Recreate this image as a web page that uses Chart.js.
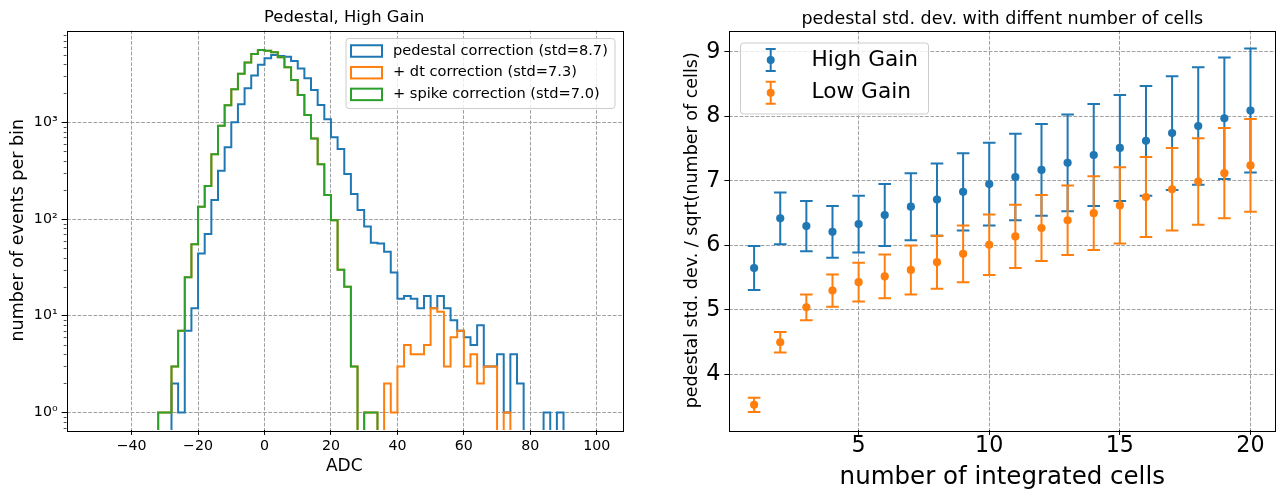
<!DOCTYPE html>
<html>
<head>
<meta charset="utf-8">
<title>Pedestal noise</title>
<script src="https://cdn.jsdelivr.net/npm/chart.js@4.4.1/dist/chart.umd.min.js"></script>
<style>
  html, body { margin: 0; padding: 0; background: #fff; }
  #wrap { position: relative; width: 1280px; height: 494px; overflow: hidden; }
  canvas { position: absolute; top: 0; }
  #histChart { left: 0; }
  #stdChart { left: 640px; }
</style>
</head>
<body>
<div id="wrap">
  <canvas id="histChart" width="640" height="494"></canvas>
  <canvas id="stdChart" width="640" height="494"></canvas>
</div>
<script>
// ---- histogram data (2 ADC wide bins, first bin starts at -34) ----
const binLow = -34;
const binWidth = 2;

const pedestalCounts = [
  0, 0, 0, 2, 1, 7, 12, 44, 70, 157,
  316, 552, 1000, 1535, 2250, 3050, 3950, 4600, 4980, 4860,
  4760, 4300, 3610, 2850, 2160, 1510, 1075, 700, 530, 292,
  182, 124, 84, 57, 56, 46, 28, 15, 16, 15,
  12, 16, 12, 16, 12, 9, 7, 6, 5, 8,
  3, 3, 4, 1, 4, 2, 0, 0, 0, 1,
  0, 1, 0
];
const dtCounts = [
  0, 1, 1, 3, 7, 25, 55, 134, 220, 467,
  920, 1500, 2200, 3170, 4150, 5080, 5600, 5500, 5300, 4700,
  3700, 2740, 1920, 1190, 680, 368, 177, 97, 30, 20,
  3, 0, 1, 1, 0, 2, 1, 3, 5, 4,
  4, 5, 12, 11, 3, 6, 7, 3, 4, 2,
  3, 3, 0, 1, 0, 0, 0, 0, 0, 0,
  0, 0, 0
];
const spikeCounts = [
  0, 1, 1, 3, 7, 25, 55, 134, 220, 467,
  920, 1500, 2200, 3170, 4150, 5080, 5600, 5500, 5300, 4700,
  3700, 2740, 1920, 1190, 680, 368, 177, 97, 30, 20,
  3, 0, 1, 1, 0, 0, 0, 0, 0, 0,
  0, 0, 0, 0, 0, 0, 0, 0, 0, 0,
  0, 0, 0, 0, 0, 0, 0, 0, 0, 0,
  0, 0, 0
];
const histLabels = [
  "pedestal correction (std=8.7)",
  "+ dt correction (std=7.3)",
  "+ spike correction (std=7.0)"
];
const adcTicks = [-40, -20, 0, 20, 40, 60, 80, 100];
const countTicks = [1, 10, 100, 1000];

// ---- std. dev. per number of integrated cells ----
const cells = [1, 2, 3, 4, 5, 6, 7, 8, 9, 10, 11, 12, 13, 14, 15, 16, 17, 18, 19, 20];
const highGain = [5.65, 6.42, 6.30, 6.21, 6.33, 6.47, 6.60, 6.71, 6.83, 6.95,
                  7.06, 7.17, 7.28, 7.40, 7.51, 7.62, 7.74, 7.85, 7.97, 8.09];
const highGainErr = [0.34, 0.40, 0.39, 0.40, 0.44, 0.48, 0.52, 0.56, 0.60, 0.64,
                     0.67, 0.71, 0.75, 0.79, 0.82, 0.85, 0.88, 0.91, 0.94, 0.96];
const lowGain = [3.53, 4.50, 5.04, 5.30, 5.43, 5.52, 5.62, 5.74, 5.87, 6.01,
                 6.14, 6.27, 6.39, 6.50, 6.62, 6.75, 6.87, 6.99, 7.12, 7.24];
const lowGainErr = [0.11, 0.16, 0.20, 0.25, 0.30, 0.34, 0.38, 0.41, 0.44, 0.47,
                    0.49, 0.51, 0.54, 0.57, 0.59, 0.62, 0.64, 0.67, 0.70, 0.72];
const gainLabels = ["High Gain", "Low Gain"];
const cellTicks = [5, 10, 15, 20];
const stdTicks = [4, 5, 6, 7, 8, 9];

const BLUE = "#1f77b4", ORANGE = "#ff7f0e", GREEN = "#2ca02c";
const FONT = "'DejaVu Sans', sans-serif";

Chart.defaults.font.family = FONT;
Chart.defaults.color = "#000";
Chart.defaults.animation = false;

// empty bins sit below the log axis and get clipped away
const emptyBin = 0.05;

function stepPoints(counts) {
  const pts = [{ x: binLow, y: emptyBin }];
  counts.forEach((c, i) => {
    pts.push({ x: binLow + (i + 1) * binWidth, y: c > 0 ? c : emptyBin });
  });
  pts.push({ x: binLow + counts.length * binWidth, y: emptyBin });
  return pts;
}

function fixedTicks(values) {
  return (scale) => { scale.ticks = values.map((v) => ({ value: v })); };
}

const SUP = { "0": "\u2070", "1": "\u00b9", "2": "\u00b2", "3": "\u00b3" };
function powerLabel(v) {
  const e = String(Math.round(Math.log10(v)));
  return "10" + e.split("").map((d) => SUP[d]).join("");
}
function minusLabel(v) {
  return v < 0 ? "\u2212" + Math.abs(v) : String(v);
}

function gridOpts() {
  return {
    color: "#a0a0a0",
    lineWidth: 1,
    tickColor: "#000",
    tickLength: 4.9,
    tickWidth: 1
  };
}

// box round the plot area, drawn over the data like matplotlib spines
const frame = {
  id: "frame",
  afterDraw(chart) {
    const { ctx, chartArea: a } = chart;
    ctx.save();
    ctx.strokeStyle = "#000";
    ctx.lineWidth = 1;
    ctx.strokeRect(Math.round(a.left) + 0.5, Math.round(a.top) + 0.5,
                   Math.round(a.right - a.left), Math.round(a.bottom - a.top));
    ctx.restore();
  }
};

// short unlabelled ticks at 2..9 x 10^n on the log axis
const logMinorTicks = {
  id: "logMinorTicks",
  afterDraw(chart) {
    const { ctx, chartArea: a, scales: { y } } = chart;
    ctx.save();
    ctx.strokeStyle = "#000";
    ctx.lineWidth = 0.7;
    ctx.beginPath();
    for (let dec = 0.1; dec <= 1000; dec *= 10) {
      for (let m = 2; m <= 9; m++) {
        const v = m * dec;
        if (v < y.min || v > y.max) continue;
        const py = Math.round(y.getPixelForValue(v)) + 0.5;
        ctx.moveTo(a.left, py);
        ctx.lineTo(a.left - 2.8, py);
      }
    }
    ctx.stroke();
    ctx.restore();
  }
};

// title centred over the plot area
const panelTitle = {
  id: "panelTitle",
  afterDraw(chart, args, o) {
    const { ctx, chartArea: a } = chart;
    ctx.save();
    ctx.font = o.size + "px " + FONT;
    ctx.fillStyle = "#000";
    ctx.textAlign = "center";
    ctx.textBaseline = "alphabetic";
    ctx.fillText(o.text, (a.left + a.right) / 2, o.baseline);
    ctx.restore();
  }
};

// vertical error bars with caps, painted just before each dataset's markers
const errorBars = {
  id: "errorBars",
  beforeDatasetDraw(chart, args) {
    const ds = chart.data.datasets[args.index];
    if (!ds.errors) return;
    const { ctx, scales: { x, y } } = chart;
    const cap = 6.3;
    ctx.save();
    ctx.strokeStyle = ds.backgroundColor;
    ctx.lineWidth = 2;
    ds.data.forEach((p, j) => {
      const px = x.getPixelForValue(p.x);
      const hi = y.getPixelForValue(p.y + ds.errors[j]);
      const lo = y.getPixelForValue(p.y - ds.errors[j]);
      ctx.beginPath();
      ctx.moveTo(px, hi); ctx.lineTo(px, lo);
      ctx.moveTo(px - cap, hi); ctx.lineTo(px + cap, hi);
      ctx.moveTo(px - cap, lo); ctx.lineTo(px + cap, lo);
      ctx.stroke();
    });
    ctx.restore();
  }
};

// legend box inside the axes
const boxLegend = {
  id: "boxLegend",
  afterDatasetsDraw(chart, args, o) {
    const { ctx } = chart;
    ctx.save();
    ctx.beginPath();
    if (ctx.roundRect) ctx.roundRect(o.x + 0.5, o.y + 0.5, o.w, o.h, 3);
    else ctx.rect(o.x + 0.5, o.y + 0.5, o.w, o.h);
    ctx.fillStyle = "rgba(255,255,255,0.8)";
    ctx.fill();
    ctx.strokeStyle = "#cccccc";
    ctx.lineWidth = 1;
    ctx.stroke();
    ctx.font = o.size + "px " + FONT;
    ctx.textBaseline = "middle";
    o.order.forEach((idx, k) => {
      const ds = chart.data.datasets[idx];
      const cy = o.y + o.first + k * o.step;
      const col = ds.borderColor || ds.backgroundColor;
      ctx.strokeStyle = col;
      ctx.fillStyle = col;
      ctx.lineWidth = 2;
      if (o.kind === "patch") {
        ctx.strokeRect(o.markX, cy - o.markH / 2, o.markW, o.markH);
      } else {
        const h = o.markH / 2, c = 5;
        ctx.beginPath();
        ctx.moveTo(o.markX, cy - h); ctx.lineTo(o.markX, cy + h);
        ctx.moveTo(o.markX - c, cy - h); ctx.lineTo(o.markX + c, cy - h);
        ctx.moveTo(o.markX - c, cy + h); ctx.lineTo(o.markX + c, cy + h);
        ctx.stroke();
        ctx.beginPath();
        ctx.arc(o.markX, cy, 4, 0, Math.PI * 2);
        ctx.fill();
      }
      ctx.fillStyle = "#000";
      ctx.fillText(ds.label, o.textX, cy);
    });
    ctx.restore();
  }
};

// ---------- left: pedestal histograms ----------
function histSet(label, counts, color, order) {
  return {
    label: label,
    data: stepPoints(counts),
    borderColor: color,
    borderWidth: 2,
    pointRadius: 0,
    fill: false,
    stepped: "after",
    clip: 0,
    order: order
  };
}

new Chart(document.getElementById("histChart"), {
  type: "line",
  data: {
    datasets: [
      histSet(histLabels[0], pedestalCounts, BLUE, 3),
      histSet(histLabels[1], dtCounts, ORANGE, 2),
      histSet(histLabels[2], spikeCounts, GREEN, 1)
    ]
  },
  options: {
    responsive: false,
    layout: { padding: { left: 0, top: 30.5, right: 18, bottom: 0 } },
    plugins: {
      legend: { display: false },
      tooltip: { enabled: false },
      panelTitle: { text: "Pedestal, High Gain", size: 16.4, baseline: 22 },
      boxLegend: {
        kind: "patch", order: [0, 1, 2],
        x: 345.5, y: 38, w: 269, h: 70,
        first: 13, step: 21.7, size: 14.6,
        markX: 351, markW: 31, markH: 11.5, textX: 393
      }
    },
    scales: {
      x: {
        type: "linear",
        min: -59.6,
        max: 107.6,
        afterBuildTicks: fixedTicks(adcTicks),
        afterFit: (s) => { s.height = 64; },
        grid: gridOpts(),
        border: { display: false, dash: [3.7, 1.6] },
        ticks: { font: { size: 14.2 }, padding: 3, maxRotation: 0,
                 callback: (v) => minusLabel(v) },
        title: { display: true, text: "ADC", font: { size: 17 },
                 padding: { top: 0, bottom: 16.8 } }
      },
      y: {
        type: "logarithmic",
        min: 0.66,
        max: 8900,
        afterBuildTicks: fixedTicks(countTicks),
        afterFit: (s) => { s.width = 66.5; },
        grid: gridOpts(),
        border: { display: false, dash: [3.7, 1.6] },
        ticks: { font: { size: 14.2 }, padding: 4, callback: (v) => powerLabel(v) },
        title: { display: true, text: "number of events per bin", font: { size: 17.5 },
                 padding: { top: 7.5, bottom: 0 } }
      }
    }
  },
  plugins: [frame, logMinorTicks, panelTitle, boxLegend]
});

// ---------- right: std. dev. vs. integrated cells ----------
function gainSet(label, values, errors, color, order) {
  return {
    label: label,
    data: cells.map((c, i) => ({ x: c, y: values[i] })),
    errors: errors,
    backgroundColor: color,
    borderWidth: 0,
    pointRadius: 4.1,
    pointHoverRadius: 4.1,
    order: order
  };
}

new Chart(document.getElementById("stdChart"), {
  type: "scatter",
  data: {
    datasets: [
      gainSet(gainLabels[0], highGain, highGainErr, BLUE, 2),
      gainSet(gainLabels[1], lowGain, lowGainErr, ORANGE, 1)
    ]
  },
  options: {
    responsive: false,
    layout: { padding: { left: 0, top: 30.5, right: 4.7, bottom: 0 } },
    plugins: {
      legend: { display: false },
      tooltip: { enabled: false },
      panelTitle: { text: "pedestal std. dev. with diffent number of cells", size: 17.5, baseline: 23.5 },
      boxLegend: {
        kind: "errorbar", order: [0, 1],
        x: 100, y: 42.5, w: 188, h: 71,
        first: 17.5, step: 32.7, size: 21.7,
        markX: 130.7, markH: 22, textX: 171.5
      }
    },
    scales: {
      x: {
        type: "linear",
        min: 0.05,
        max: 20.95,
        afterBuildTicks: fixedTicks(cellTicks),
        afterFit: (s) => { s.height = 64; },
        grid: gridOpts(),
        border: { display: false, dash: [3.7, 1.6] },
        ticks: { font: { size: 22.2 }, padding: -1.5, maxRotation: 0 },
        title: { display: true, text: "number of integrated cells", font: { size: 24.5 },
                 padding: { top: 0, bottom: 1.3 } }
      },
      y: {
        type: "linear",
        min: 3.14,
        max: 9.33,
        afterBuildTicks: fixedTicks(stdTicks),
        afterFit: (s) => { s.width = 89.3; },
        grid: gridOpts(),
        border: { display: false, dash: [3.7, 1.6] },
        ticks: { font: { size: 22.2 }, padding: 4 },
        title: { display: true, text: "pedestal std. dev. / sqrt(number of cells)", font: { size: 17.5 },
                 padding: { top: 42.3, bottom: 0 } }
      }
    }
  },
  plugins: [frame, panelTitle, errorBars, boxLegend]
});
</script>
</body>
</html>
